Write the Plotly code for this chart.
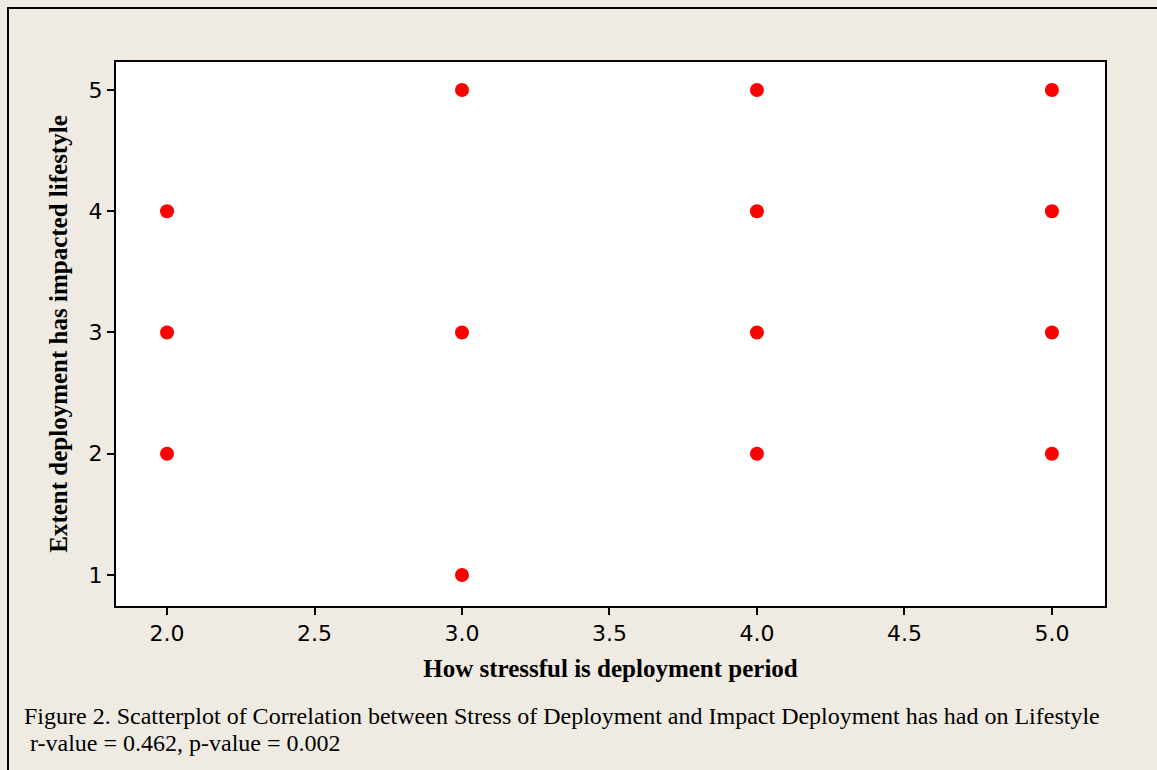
import plotly.graph_objects as go

# Data: stress rating (x) vs. lifestyle impact rating (y)
stress = [2, 2, 2, 3, 3, 3, 4, 4, 4, 4, 5, 5, 5, 5]
impact = [4, 3, 2, 5, 3, 1, 5, 4, 3, 2, 5, 4, 3, 2]

x_ticks = [2.0, 2.5, 3.0, 3.5, 4.0, 4.5, 5.0]
x_tick_text = ["2.0", "2.5", "3.0", "3.5", "4.0", "4.5", "5.0"]
y_ticks = [1, 2, 3, 4, 5]

x_title = "How stressful is deployment period"
y_title = "Extent deployment has impacted lifestyle"
caption_1 = "Figure 2. Scatterplot of Correlation between Stress of Deployment and Impact Deployment has had on Lifestyle"
caption_2 = " r-value = 0.462, p-value = 0.002"

W, H = 1157, 770
L, R, T, B = 116, 52, 62, 164
pw, ph = W - L - R, H - T - B

def px(xpix):
    return (xpix - L) / pw

def py(ypix):
    return 1 - (ypix - T) / ph

bg = "#efebe2"
tick_font = dict(family="DejaVu Sans, Noto Sans, sans-serif", size=22, color="black")
serif_bold = dict(family="Liberation Serif, Times New Roman, serif", size=25, color="black")
caption_font = dict(family="Liberation Serif, Times New Roman, serif", size=24, color="black")

fig = go.Figure(
    go.Scatter(
        x=stress, y=impact, mode="markers",
        marker=dict(color="#ff0000", size=14, line=dict(width=0)),
        hoverinfo="x+y",
    )
)

fig.update_layout(
    width=W, height=H,
    margin=dict(l=L, r=R, t=T, b=B, pad=0),
    paper_bgcolor=bg, plot_bgcolor="white",
    showlegend=False,
    xaxis=dict(
        range=[1.827, 5.18], tickvals=x_ticks, ticktext=x_tick_text,
        showgrid=False, zeroline=False,
        showline=True, linecolor="black", linewidth=2, mirror=True,
        ticks="outside", ticklen=7, tickwidth=1.5, tickcolor="black",
        tickfont=tick_font,
        title=dict(text="<b>" + x_title + "</b>", font=serif_bold, standoff=14),
    ),
    yaxis=dict(
        range=[0.744, 5.231], tickvals=y_ticks,
        showgrid=False, zeroline=False,
        showline=True, linecolor="black", linewidth=2, mirror=True,
        ticks="outside", ticklen=7, tickwidth=1.5, tickcolor="black",
        tickfont=tick_font,
        title=dict(text="<b>" + y_title + "</b>", font=serif_bold, standoff=14),
    ),
    annotations=[
        dict(text=caption_1, xref="paper", yref="paper", x=px(22), y=py(716),
             xanchor="left", yanchor="middle", showarrow=False, font=caption_font),
        dict(text=caption_2, xref="paper", yref="paper", x=px(22), y=py(743),
             xanchor="left", yanchor="middle", showarrow=False, font=caption_font),
    ],
    shapes=[
        dict(type="rect", xref="paper", yref="paper",
             x0=px(8), y0=py(790), x1=px(1180), y1=py(8),
             line=dict(color="black", width=2), fillcolor="rgba(0,0,0,0)", layer="below"),
    ],
)

fig.write_html(
    "out.html",
    config={"displayModeBar": False},
    post_script="document.body.style.margin='0';document.body.style.background='" + bg + "';",
)
